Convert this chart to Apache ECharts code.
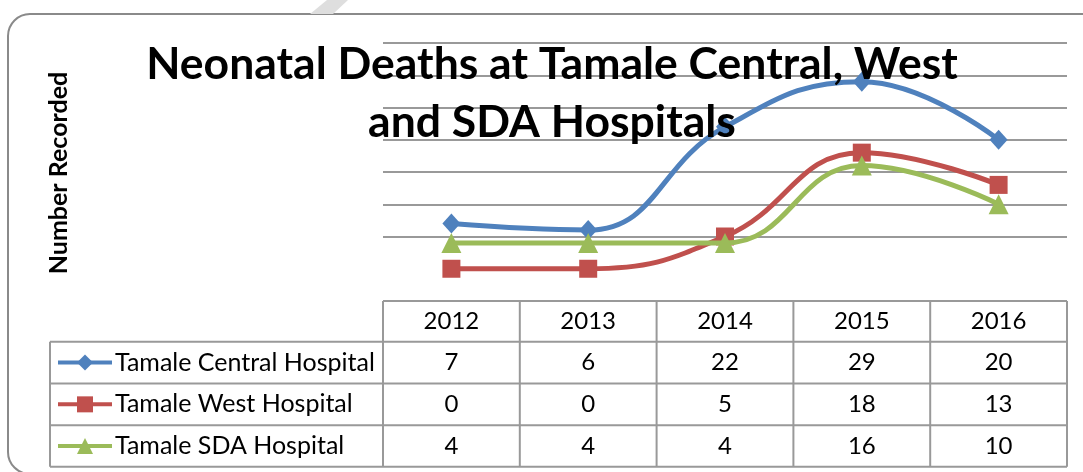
<!DOCTYPE html>
<html>
<head>
<meta charset="utf-8">
<script src="https://cdn.jsdelivr.net/npm/echarts@6/dist/echarts.min.js"></script>
<style>
  html, body { margin: 0; padding: 0; background: #fff; }
  #chart { width: 1083px; height: 472px; }
</style>
</head>
<body>
<div id="chart"></div>
<script>
const years = ["2012", "2013", "2014", "2015", "2016"];
const seriesNames = ["Tamale Central Hospital", "Tamale West Hospital", "Tamale SDA Hospital"];
const centralDeaths = [7, 6, 22, 29, 20];
const westDeaths = [0, 0, 5, 18, 13];
const sdaDeaths = [4, 4, 4, 16, 10];

const colors = ["#4F81BD", "#C0504D", "#9BBB59"];
const symbols = ["diamond", "rect", "triangle"];
const symbolSizes = [[18, 20], 18, 20];
const allData = [centralDeaths, westDeaths, sdaDeaths];

const font = "Lato, 'Open Sans', sans-serif";
const gridColor = "#999";

// table rows (under the plot)
const rowTops = [301, 341.7, 383.5, 425.2, 466.7];
const rowMid = (r) => (rowTops[r] + rowTops[r + 1]) / 2;

const myChart = echarts.init(document.getElementById("chart"));

const series = seriesNames.map((name, i) => ({
  name: name,
  type: "line",
  data: allData[i],
  smooth: 0.45,
  symbol: symbols[i],
  symbolSize: symbolSizes[i],
  z: 3 + i,
  lineStyle: { color: colors[i], width: 5 },
  itemStyle: { color: colors[i] },
}));

// one legend per table row (icon only), the names are written as cell text
const legendIconH = 20;
const legends = seriesNames.map((name, i) => ({
  data: [name],
  left: 56,
  top: rowMid(i + 1) - legendIconH / 2,
  padding: 0,
  itemWidth: 54,
  itemHeight: legendIconH,
  itemGap: 0,
  selectedMode: false,
  formatter: () => "",
  lineStyle: { width: 4 },
}));

let option = {
  animation: false,
  backgroundColor: "#fff",
  grid: { left: 383, right: 16, top: 43, bottom: 171 },
  legend: legends,
  xAxis: {
    type: "category",
    data: years,
    boundaryGap: true,
    axisLine: { show: false },
    axisTick: { show: false },
    axisLabel: { show: false },
  },
  yAxis: {
    type: "value",
    min: -5,
    max: 35,
    interval: 5,
    axisLine: { show: false },
    axisTick: { show: false },
    axisLabel: { show: false },
    splitLine: {
      lineStyle: {
        color: ["transparent", "transparent", gridColor, gridColor, gridColor, gridColor, gridColor, gridColor, gridColor],
        width: 2,
      },
    },
  },
  series: series,
};

myChart.setOption(option);

// build the card, titles and data table
const elements = [];
elements.push({
  type: "rect",
  shape: { x: 8, y: 14, width: 1100, height: 460, r: 22 },
  style: { fill: null, stroke: "#8a8a8a", lineWidth: 2 },
  z: 0,
});
elements.push({
  type: "polygon",
  shape: { points: [[327, 0], [348, 0], [333, 14], [310, 14]] },
  style: { fill: "#dedede" },
  z: 0,
});
elements.push({
  type: "text",
  x: 552,
  y: 65,
  style: {
    text: "Neonatal Deaths at Tamale Central, West",
    font: "bold 44.5px " + font,
    fill: "#000",
    textAlign: "center",
    textVerticalAlign: "middle",
  },
  z: 50,
});
elements.push({
  type: "text",
  x: 552,
  y: 123,
  style: {
    text: "and SDA Hospitals",
    font: "bold 44.5px " + font,
    fill: "#000",
    textAlign: "center",
    textVerticalAlign: "middle",
  },
  z: 50,
});
elements.push({
  type: "text",
  x: 59,
  y: 173,
  rotation: Math.PI / 2,
  style: {
    text: "Number Recorded",
    font: "bold 25px " + font,
    fill: "#000",
    textAlign: "center",
    textVerticalAlign: "middle",
  },
  z: 50,
});

const centers = years.map((y, i) => myChart.convertToPixel({ xAxisIndex: 0 }, i));
const band = centers.length > 1 ? centers[1] - centers[0] : 136.8;
const colEdges = centers.map((c) => c - band / 2);
colEdges.push(centers[centers.length - 1] + band / 2);
const tableLeft = 50;
const tableRight = colEdges[colEdges.length - 1];
const lineStyle = { stroke: "#999", lineWidth: 2 };

// horizontal lines
elements.push({
  type: "line",
  shape: { x1: colEdges[0], y1: rowTops[0], x2: tableRight, y2: rowTops[0] },
  style: lineStyle,
});
for (let r = 1; r < rowTops.length; r++) {
  elements.push({
    type: "line",
    shape: { x1: tableLeft, y1: rowTops[r], x2: tableRight, y2: rowTops[r] },
    style: lineStyle,
  });
}
// vertical lines
elements.push({
  type: "line",
  shape: { x1: tableLeft, y1: rowTops[1], x2: tableLeft, y2: rowTops[4] },
  style: lineStyle,
});
colEdges.forEach((x) => {
  elements.push({
    type: "line",
    shape: { x1: x, y1: rowTops[0], x2: x, y2: rowTops[4] },
    style: lineStyle,
  });
});

// header, series names and values
const cellText = (txt, x, y, align, size) => ({
  type: "text",
  x: x,
  y: y,
  style: {
    text: txt,
    font: size + "px " + font,
    fill: "#000",
    textAlign: align,
    textVerticalAlign: "middle",
  },
});
seriesNames.forEach((name, s) => {
  elements.push(cellText(name, 115, rowMid(s + 1), "left", 25));
});
years.forEach((yr, i) => {
  elements.push(cellText(yr, centers[i], rowMid(0), "center", 24));
  allData.forEach((d, s) => {
    elements.push(cellText(String(d[i]), centers[i], rowMid(s + 1), "center", 24));
  });
});

myChart.setOption({ graphic: { elements: elements } });
</script>
</body>
</html>
